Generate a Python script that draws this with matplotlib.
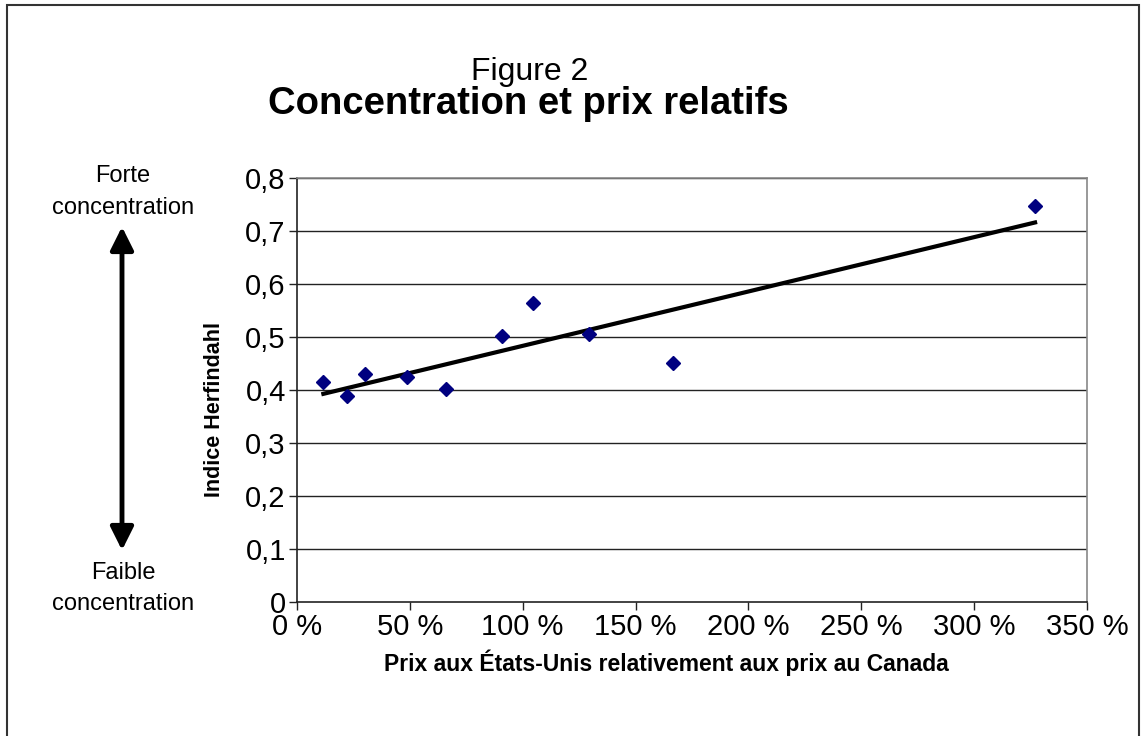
import matplotlib
matplotlib.use('Agg')
import matplotlib.pyplot as plt
import numpy as np
from matplotlib.patches import Rectangle, FancyArrowPatch

plt.rcParams['font.family'] = ['Liberation Sans', 'DejaVu Sans']

# data (x in %, y = Herfindahl index)
prixRelatifs = [11.7, 22, 30, 48.9, 66, 90.7, 104.7, 129.5, 166.5, 327]
indiceHerf = [0.415, 0.389, 0.430, 0.425, 0.402, 0.503, 0.564, 0.506, 0.451, 0.748]

xTicks = [0, 50, 100, 150, 200, 250, 300, 350]
xTickLabels = ['0 %', '50 %', '100 %', '150 %', '200 %', '250 %', '300 %', '350 %']
yTicks = [0, 0.1, 0.2, 0.3, 0.4, 0.5, 0.6, 0.7, 0.8]
yTickLabels = ['0', '0,1', '0,2', '0,3', '0,4', '0,5', '0,6', '0,7', '0,8']

fig = plt.figure(figsize=(11.43, 7.36), dpi=100)
ax = fig.add_axes([0.2598, 0.1825, 0.951 - 0.2598, 0.7575 - 0.1825])

# outer frame of the chart
fig.patches.append(Rectangle((7 / 1143, -0.01), (1139 - 7) / 1143, 1 - 5 / 736 + 0.01,
                             transform=fig.transFigure, fill=False,
                             edgecolor='#333333', linewidth=1.5))

for y in yTicks[1:]:
    ax.axhline(y, color='#222222', linewidth=1, zorder=1)

ax.plot(prixRelatifs, indiceHerf, linestyle='none', marker='D', markersize=7.5,
        color='#000080', zorder=3)

# linear trend line
z = np.polyfit(prixRelatifs, indiceHerf, 1)
p = np.poly1d(z)
xFit = np.array([min(prixRelatifs), max(prixRelatifs)])
ax.plot(xFit, p(xFit), color='black', linewidth=3, zorder=2)

ax.set_xlim(0, 350)
ax.set_ylim(0, 0.8)
ax.set_xticks(xTicks)
ax.set_xticklabels(xTickLabels)
ax.set_yticks(yTicks)
ax.set_yticklabels(yTickLabels)
ax.tick_params(axis='both', direction='out', length=6, width=1, labelsize=21,
               color='#222222')
ax.tick_params(axis='x', pad=2)
ax.tick_params(axis='y', pad=2)

ax.spines['top'].set_color('#888888')
ax.spines['right'].set_color('#888888')
ax.spines['left'].set_color('#222222')
ax.spines['bottom'].set_color('#222222')
for s in ax.spines.values():
    s.set_linewidth(1.2)

ax.set_xlabel('Prix aux États-Unis relativement aux prix au Canada',
              fontsize=16.5, fontweight='bold', labelpad=6)
ax.xaxis.label.set_x(0.468)
ax.set_ylabel('Indice Herfindahl', fontsize=15.5, fontweight='bold', labelpad=15)
ax.yaxis.label.set_y(0.453)

fig.text(530 / 1143, 1 - 80 / 736, 'Figure 2', ha='center', va='baseline', fontsize=23)
fig.text(528 / 1143, 1 - 114 / 736, 'Concentration et prix relatifs', ha='center',
         va='baseline', fontsize=27.5, fontweight='bold')

fig.text(123 / 1143, 1 - 176 / 736, 'Forte', ha='center', va='center', fontsize=17)
fig.text(123 / 1143, 1 - 208 / 736, 'concentration', ha='center', va='center', fontsize=17)
fig.text(123 / 1143, 1 - 573 / 736, 'Faible', ha='center', va='center', fontsize=17)
fig.text(123 / 1143, 1 - 604 / 736, 'concentration', ha='center', va='center', fontsize=17)

arrow = FancyArrowPatch((122 / 1143, 1 - 553 / 736), (122 / 1143, 1 - 224 / 736),
                        transform=fig.transFigure, arrowstyle='<|-|>,head_length=10,head_width=5',
                        mutation_scale=1.4, color='black', linewidth=3.5)
fig.patches.append(arrow)

fig.savefig('out.png', dpi=100)
